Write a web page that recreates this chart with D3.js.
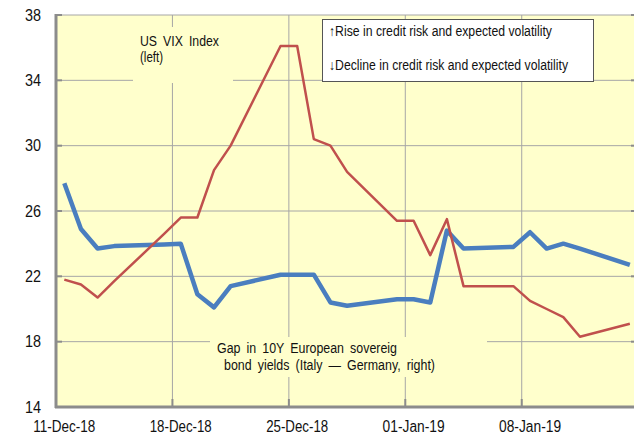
<!DOCTYPE html>
<html>
<head>
<meta charset="utf-8">
<script src="https://cdn.jsdelivr.net/npm/d3@7"></script>
<style>
  body { margin: 0; background: #fff; }
  svg { display: block; font-family: "Liberation Sans", Arial, sans-serif; }
</style>
</head>
<body>
<div id="chart"></div>
<script>
const dates = [
  "2018-12-11", "2018-12-12", "2018-12-13", "2018-12-14", "2018-12-17", "2018-12-18",
  "2018-12-19", "2018-12-20", "2018-12-21", "2018-12-24", "2018-12-25", "2018-12-26",
  "2018-12-27", "2018-12-28", "2018-12-31", "2019-01-01", "2019-01-02", "2019-01-03",
  "2019-01-04", "2019-01-07", "2019-01-08", "2019-01-09", "2019-01-10", "2019-01-11",
  "2019-01-14"
];
const vix = [
  21.8, 21.5, 20.7, 21.7, 24.6, 25.6, 25.6, 28.5, 30.0, 36.1, 36.1, 30.4,
  30.0, 28.4, 25.4, 25.4, 23.3, 25.5, 21.4, 21.4, 20.5, 20.0, 19.5, 18.3, 19.1
];
// gap series, read in left-axis units
const gap = [
  27.7, 24.9, 23.7, 23.85, 23.95, 24.0, 20.9, 20.1, 21.4, 22.1, 22.1, 22.1,
  20.4, 20.2, 20.6, 20.6, 20.4, 24.8, 23.7, 23.8, 24.7, 23.7, 24.0, 23.7, 22.7
];
const yTicks = [14, 18, 22, 26, 30, 34, 38];
const xTicks = ["2018-12-11", "2018-12-18", "2018-12-25", "2019-01-01", "2019-01-08"];
const legendLines = ["\u2191Rise in credit risk and expected volatility",
                     "\u2193Decline in credit risk and expected volatility"];
const vixLabel = ["US VIX Index", "(left)"];
const gapLabel = ["Gap in 10Y European sovereig", "bond yields (Italy \u2014 Germany, right)"];

const width = 634, height = 436;
const mLeft = 56, mRight = 634, mTop = 15, mBottom = 407;
const parse = d3.timeParse("%Y-%m-%d");
const DAY = 864e5;
const mid = d => new Date(parse(d).getTime() + DAY / 2);

const x = d3.scaleTime()
  .domain([parse("2018-12-11"), new Date(parse("2018-12-11").getTime() + 34.75 * DAY)])
  .range([mLeft, mRight]);
const y = d3.scaleLinear().domain([14, 38]).range([mBottom, mTop]);

const svg = d3.select("#chart").append("svg")
  .attr("width", width).attr("height", height);

svg.append("rect")
  .attr("x", mLeft).attr("y", mTop)
  .attr("width", mRight - mLeft).attr("height", mBottom - mTop)
  .attr("fill", "#ffffcc");

// grid
svg.append("g")
  .selectAll("line")
  .data(yTicks.slice(1))
  .join("line")
  .attr("x1", mLeft).attr("x2", mRight)
  .attr("y1", d => y(d)).attr("y2", d => y(d))
  .attr("stroke", "#a6a6a6").attr("stroke-width", 1);

svg.append("g")
  .selectAll("line")
  .data(xTicks.slice(1))
  .join("line")
  .attr("x1", d => x(parse(d))).attr("x2", d => x(parse(d)))
  .attr("y1", mTop).attr("y2", mBottom)
  .attr("stroke", "#a6a6a6").attr("stroke-width", 1);

// label boxes hide the grid behind the text
svg.append("rect").attr("x", 133).attr("y", 27).attr("width", 100).attr("height", 56).attr("fill", "#ffffcc");
svg.append("rect").attr("x", 210).attr("y", 337).attr("width", 277).attr("height", 40).attr("fill", "#ffffcc");

// axes
svg.append("line").attr("x1", mLeft).attr("x2", mLeft).attr("y1", mTop - 1).attr("y2", mBottom + 1)
  .attr("stroke", "#8c8c8c").attr("stroke-width", 3);
svg.append("line").attr("x1", mLeft - 1).attr("x2", mRight).attr("y1", mBottom).attr("y2", mBottom)
  .attr("stroke", "#8c8c8c").attr("stroke-width", 3);

svg.append("g").selectAll("line")
  .data(yTicks)
  .join("line")
  .attr("x1", mLeft).attr("x2", mLeft + 6)
  .attr("y1", d => y(d)).attr("y2", d => y(d))
  .attr("stroke", "#8c8c8c").attr("stroke-width", 2);
svg.append("g").selectAll("line")
  .data(yTicks)
  .join("line")
  .attr("x1", mRight - 3).attr("x2", mRight)
  .attr("y1", d => y(d)).attr("y2", d => y(d))
  .attr("stroke", "#8c8c8c").attr("stroke-width", 2);
svg.append("g").selectAll("line")
  .data(xTicks.slice(1))
  .join("line")
  .attr("x1", d => x(parse(d))).attr("x2", d => x(parse(d)))
  .attr("y1", mBottom - 8).attr("y2", mBottom)
  .attr("stroke", "#8c8c8c").attr("stroke-width", 2);

svg.append("g").selectAll("text")
  .data(yTicks)
  .join("text")
  .attr("x", 41).attr("y", d => y(d))
  .attr("dy", "0.35em")
  .attr("text-anchor", "end")
  .attr("font-size", 16)
  .attr("textLength", 16).attr("lengthAdjust", "spacingAndGlyphs")
  .attr("fill", "#111")
  .text(d => d);

svg.append("g").selectAll("text")
  .data(xTicks)
  .join("text")
  .attr("x", d => x(mid(d))).attr("y", 432)
  .attr("text-anchor", "middle")
  .attr("font-size", 16)
  .attr("textLength", 62).attr("lengthAdjust", "spacingAndGlyphs")
  .attr("fill", "#111")
  .text(d => d3.timeFormat("%d-%b-%y")(parse(d)));

// lines
const pts = vals => vals.map((v, i) => [mid(dates[i]), v]);
const line = d3.line().x(d => x(d[0])).y(d => y(d[1]));

svg.append("path")
  .attr("d", line(pts(gap)))
  .attr("fill", "none").attr("stroke", "#4a7ebf")
  .attr("stroke-width", 4.5).attr("stroke-linejoin", "round");

svg.append("path")
  .attr("d", line(pts(vix)))
  .attr("fill", "none").attr("stroke", "#c0504d")
  .attr("stroke-width", 2.5).attr("stroke-linejoin", "round");

// legend note
svg.append("rect")
  .attr("x", 322.5).attr("y", 19.5).attr("width", 271).attr("height", 62)
  .attr("fill", "#fff").attr("stroke", "#555").attr("stroke-width", 1);
svg.append("g").selectAll("text")
  .data(legendLines)
  .join("text")
  .attr("x", 329).attr("y", (d, i) => 36 + i * 34)
  .attr("font-size", 14)
  .attr("textLength", (d, i) => i ? 239 : 223).attr("lengthAdjust", "spacingAndGlyphs")
  .attr("fill", "#111")
  .text(d => d);

svg.append("g").selectAll("text")
  .data(vixLabel)
  .join("text")
  .attr("x", 140).attr("y", (d, i) => 46 + i * 16)
  .attr("font-size", 14)
  .attr("word-spacing", 3)
  .attr("textLength", (d, i) => i ? 23 : 79).attr("lengthAdjust", "spacingAndGlyphs")
  .attr("fill", "#111")
  .text(d => d);

svg.append("g").selectAll("text")
  .data(gapLabel)
  .join("text")
  .attr("x", (d, i) => i ? 224 : 217).attr("y", (d, i) => 353 + i * 17)
  .attr("font-size", 14)
  .attr("word-spacing", 3)
  .attr("textLength", (d, i) => i ? 211 : 180).attr("lengthAdjust", "spacingAndGlyphs")
  .attr("fill", "#111")
  .text(d => d);
</script>
</body>
</html>
